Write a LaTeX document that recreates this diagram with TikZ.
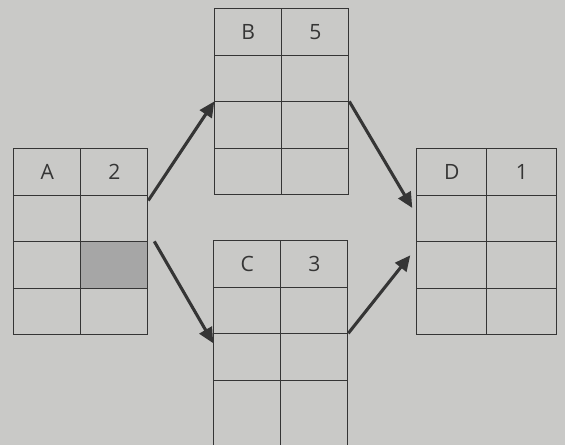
\documentclass[tikz,border=0pt]{standalone}
\usepackage{fontspec}
\setsansfont{Open Sans}
\usetikzlibrary{matrix,arrows.meta}
\definecolor{paper}{HTML}{C9C9C7}
\definecolor{pencil}{HTML}{353535}
\tikzset{
  cell/.style={draw=pencil, line width=0.7pt, minimum width=1.675cm, minimum height=1.1625cm,
    inner sep=0pt, text=pencil, font=\sffamily\fontsize{15}{18}\selectfont},
  activity/.style={matrix of nodes, nodes in empty cells, nodes={cell},
    column sep=-0.7pt, row sep=-0.7pt, inner sep=0pt, anchor=north west},
  link/.style={-{Triangle[length=11pt,width=10pt]}, line width=2.2pt, draw=pencil},
}
\begin{document}
\begin{tikzpicture}[x=0.025cm, y=-0.025cm]
    \useasboundingbox (0,0) rectangle (565,445);
    \clip (0,0) rectangle (565,445);
    \fill[paper] (0,0) rectangle (565,445);
    % activities
    \matrix (A) [activity] at (13,148) {
        A & 2 \\
          &   \\
          & |[fill=gray!70]| \\
          &   \\
    };
    \matrix (B) [activity] at (214,8) {
        B & 5 \\
          &   \\
          &   \\
          &   \\
    };
    \matrix (C) [activity, row 4/.style={nodes={minimum height=2cm}}] at (213,240) {
        C & 3 \\
          &   \\
          &   \\
          &   \\
    };
    \matrix (D) [activity, nodes={minimum width=1.75cm}] at (416,148) {
        D & 1 \\
          &   \\
          &   \\
          &   \\
    };
    % links
    \draw[link] ([yshift=-4pt]A-2-2.north east) -- (B-3-1.north west);
    \draw[link] ([xshift=0.15cm]A-3-2.north east) -- ([yshift=-0.25cm]C-3-1.north west);
    \draw[link] (B-3-2.north east) -- ([xshift=-0.1cm, yshift=-0.33cm]D-2-1.north west);
    \draw[link] (C-3-2.north east) -- ([xshift=-0.15cm, yshift=-0.35cm]D-3-1.north west);
\end{tikzpicture}
\end{document}
